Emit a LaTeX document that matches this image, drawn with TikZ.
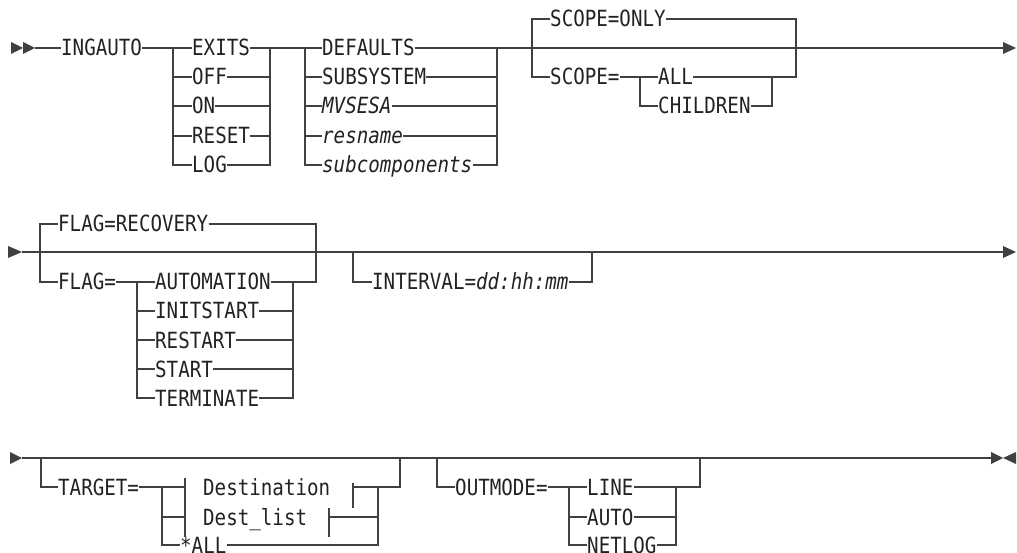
\documentclass[tikz,border=0pt]{standalone}
\usepackage{fontspec}
\newfontfamily\rr{DejaVu Sans Mono}[FakeStretch=0.86]
\definecolor{lc}{HTML}{404040}
\definecolor{txt}{HTML}{222222}
\tikzset{
  lbl/.style={anchor=west, inner sep=0pt, text height=16pt, text depth=0pt,
    font=\rr\fontsize{22.3pt}{26pt}\selectfont, text=txt},
  ln/.style={draw=lc, line width=1.3pt},
  tip/.style={fill=lc},
  thick seg/.style={draw=lc, line width=2.6pt}
}
\begin{document}
\begin{tikzpicture}[x=1pt,y=-1pt]
\useasboundingbox (0,0) rectangle (1017,553);

% ================= Row 1 =================
\fill[tip] (11,42) -- (23,48) -- (11,54) -- cycle;
\fill[tip] (23,42) -- (35,48) -- (23,54) -- cycle;
\coordinate (s1) at (35,48);
\node[lbl] (ingauto) at (61,48) {INGAUTO};
\draw[ln] (s1) -- (ingauto.west);

\coordinate (b1l) at (173,48);
\coordinate (b1r) at (270,48);
\node[lbl] (exits) at (192,48) {EXITS};
\node[lbl] (off)   at (192,77) {OFF};
\node[lbl] (on)    at (192,106) {ON};
\node[lbl] (reset) at (192,136) {RESET};
\node[lbl] (logn)  at (192,165) {LOG};
\draw[ln] (ingauto.east) -- (b1l) -- (exits.west);
\draw[ln] (b1l) |- (logn.west);
\foreach \n in {off,on,reset} \draw[ln] (b1l |- \n.west) -- (\n.west);
\draw[ln] (exits.east) -- (b1r);
\draw[ln] (b1r) |- (logn.east);
\foreach \n in {off,on,reset} \draw[ln] (\n.east) -- (b1r |- \n.east);

\coordinate (b2l) at (305,48);
\coordinate (b2r) at (497,48);
\node[lbl] (defaults) at (322,48) {DEFAULTS};
\node[lbl] (subsys)   at (322,77) {SUBSYSTEM};
\node[lbl] (mvsesa)   at (322,106) {\itshape MVSESA};
\node[lbl] (resname)  at (322,136) {\itshape resname};
\node[lbl] (subcomp)  at (322,165) {\itshape subcomponents};
\draw[ln] (b1r) -- (b2l) -- (defaults.west);
\draw[ln] (b2l) |- (subcomp.west);
\foreach \n in {subsys,mvsesa,resname} \draw[ln] (b2l |- \n.west) -- (\n.west);
\draw[ln] (defaults.east) -- (b2r);
\draw[ln] (b2r) |- (subcomp.east);
\foreach \n in {subsys,mvsesa,resname} \draw[ln] (\n.east) -- (b2r |- \n.east);

\coordinate (e1) at (1003,48);
\draw[ln] (b2r) -- (e1);
\fill[tip] (1003,42) -- (1016,48) -- (1003,54) -- cycle;

\coordinate (sl) at (532,48);
\coordinate (sr) at (796,48);
\node[lbl] (scopeonly) at (550,19) {SCOPE=ONLY};
\node[lbl] (scopeeq)   at (550,77) {SCOPE=};
\node[lbl] (all)       at (658,77) {ALL};
\node[lbl] (children)  at (658,106) {CHILDREN};
\coordinate (ib) at (640,77);
\coordinate (ir) at (772,77);
\draw[ln] (scopeeq.west) -| (scopeonly.west -| sl) -- (scopeonly.west);
\draw[ln] (scopeonly.east) -| (sr);
\draw[ln] (all.east) -| (sr);
\draw[ln] (scopeeq.east) -- (ib) -- (all.west);
\draw[ln] (ib) |- (children.west);
\draw[ln] (children.east) -| (ir);

% ================= Row 2 =================
\fill[tip] (8,246) -- (22,252) -- (8,258) -- cycle;
\coordinate (s2) at (22,252);
\coordinate (e2) at (1003,252);
\draw[ln] (s2) -- (e2);
\fill[tip] (1003,246) -- (1016,252) -- (1003,258) -- cycle;

\coordinate (fl) at (40,252);
\coordinate (fr) at (316,252);
\node[lbl] (flagrec) at (58,224) {FLAG=RECOVERY};
\node[lbl] (flageq)  at (58,282) {FLAG=};
\node[lbl] (automation) at (155,282) {AUTOMATION};
\node[lbl] (initstart)  at (155,311) {INITSTART};
\node[lbl] (restart)    at (155,340) {RESTART};
\node[lbl] (start)      at (155,369) {START};
\node[lbl] (terminate)  at (155,398) {TERMINATE};
\coordinate (fb) at (137,282);
\coordinate (fir) at (293,282);
\draw[ln] (flageq.west) -| (flagrec.west -| fl) -- (flagrec.west);
\draw[ln] (flagrec.east) -| (fr);
\draw[ln] (automation.east) -| (fr);
\draw[ln] (flageq.east) -- (fb) -- (automation.west);
\draw[ln] (fb) |- (terminate.west);
\foreach \n in {initstart,restart,start} \draw[ln] (fb |- \n.west) -- (\n.west);
\draw[ln] (terminate.east) -| (fir);
\foreach \n in {initstart,restart,start} \draw[ln] (\n.east) -- (fir |- \n.east);

\coordinate (il) at (353,252);
\coordinate (irr) at (592,252);
\node[lbl] (interval) at (372,282) {INTERVAL={\itshape dd:hh:mm}};
\draw[ln] (il) |- (interval.west);
\draw[ln] (interval.east) -| (irr);

% ================= Row 3 =================
\fill[tip] (10,452) -- (22,458) -- (10,464) -- cycle;
\coordinate (s3) at (22,458);
\coordinate (e3) at (992,458);
\draw[ln] (s3) -- (e3);
\fill[tip] (991,452) -- (1003,458) -- (991,464) -- cycle;
\fill[tip] (1016,452) -- (1003,458) -- (1016,464) -- cycle;

\coordinate (tl) at (41,458);
\coordinate (tr) at (400,458);
\node[lbl] (target) at (58,487) {TARGET=};
\coordinate (tb) at (162,487);
\coordinate (tir) at (378,487);
\node[lbl] (dest)  at (203,487) {Destination};
\node[lbl] (destl) at (203,517) {Dest\_list};
\node[lbl] (allt)  at (180,545) {*ALL};
\coordinate (dtl) at (185,487);
\coordinate (dlt) at (185,517);
\coordinate (dtr) at (353,487);
\coordinate (dlr) at (329,517);
\draw[ln] (tl) |- (target.west);
\draw[ln] (target.east) -- (tb) -- (dtl);
\draw[ln] (tb) |- (allt.west);
\draw[ln] (tb |- dlt) -- (dlt);
\draw[ln] (dtl) ++(0,-9) -- ++(0,30);
\draw[ln] (dlt) ++(0,-9) -- ++(0,29);
\draw[ln] (dtr) ++(0,-4) -- ++(0,25);
\draw[ln] (dlr) ++(0,-9) -- ++(0,29);
\draw[ln] (dtr) -- (tir);
\draw[ln] (dlr) -- (tir |- dlr);
\draw[ln] (allt.east) -| (tir);
\draw[ln] (tir) -| (tr);

\coordinate (ol) at (437,458);
\coordinate (orr) at (700,458);
\node[lbl] (outmode) at (455,487) {OUTMODE=};
\coordinate (ob) at (569,487);
\coordinate (oir) at (676,487);
\node[lbl] (linen)  at (587,487) {LINE};
\node[lbl] (auto)   at (587,517) {AUTO};
\node[lbl] (netlog) at (587,545) {NETLOG};
\draw[ln] (ol) |- (outmode.west);
\draw[ln] (outmode.east) -- (ob) -- (linen.west);
\draw[ln] (ob) |- (netlog.west);
\draw[ln] (ob |- auto.west) -- (auto.west);
\draw[ln] (linen.east) -| (orr);
\draw[ln] (netlog.east) -| (oir);
\draw[ln] (auto.east) -- (oir |- auto.east);
\coordinate (tk1) at (706,458);
\coordinate (tk2) at (730,458);
\draw[thick seg] (tk1) -- (tk2);
\end{tikzpicture}
\end{document}
